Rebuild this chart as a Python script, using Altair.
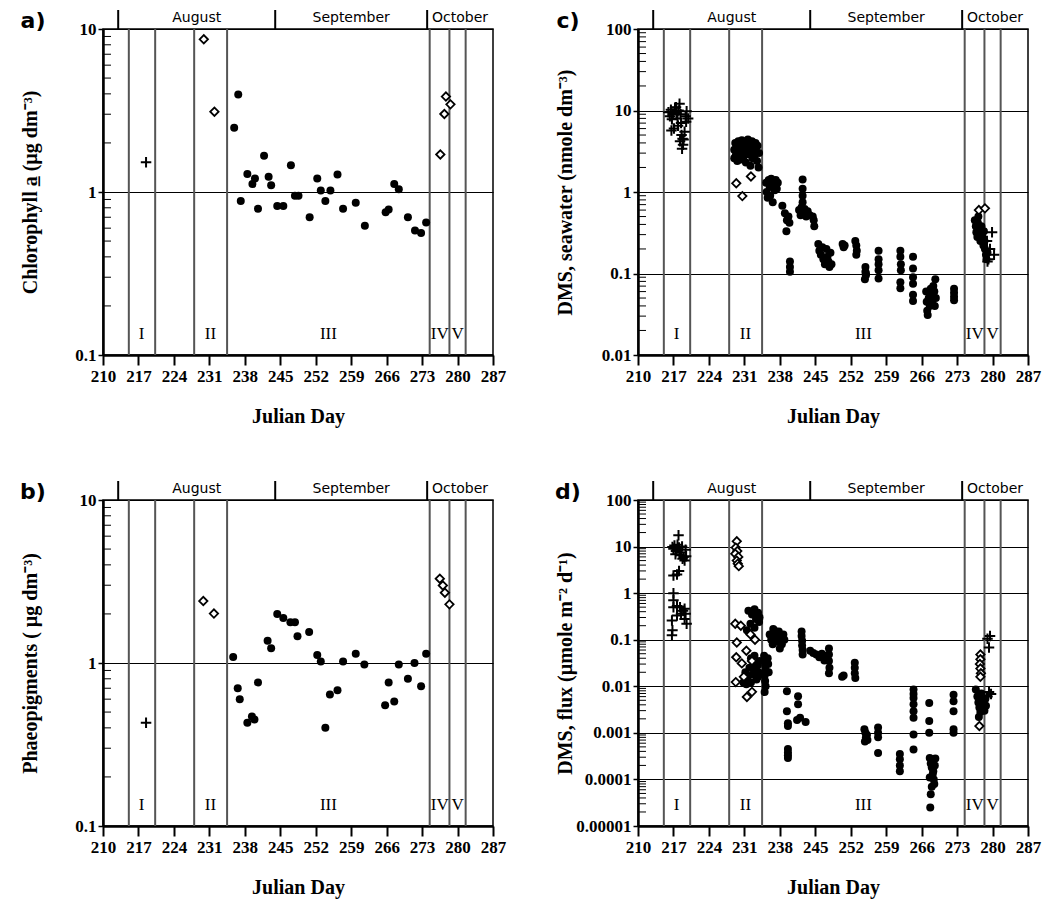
import altair as alt
import pandas as pd

# ---------------- shared axis / annotation values ----------------
x_ticks = [210, 217, 224, 231, 238, 245, 252, 259, 266, 273, 280, 287]
period_bounds = [215.1, 220.3, 228.0, 234.5, 274.5, 278.4, 281.6]
period_names = ["I", "II", "III", "IV", "V"]
period_mid = [217.6, 231.2, 254.5, 276.5, 280.0]
month_starts = [213, 244, 274]
month_names = ["August", "September", "October"]
month_mid = [228.5, 259.0, 280.5]

# ---------------- a) Chlorophyll a ----------------
chl_circle = [(235.9, 2.48), (236.7, 3.97), (237.2, 0.88), (238.5, 1.29), (239.5, 1.12), (240.0, 1.21),
              (240.6, 0.79), (241.8, 1.67), (242.7, 1.24), (243.2, 1.10), (244.4, 0.82), (245.6, 0.82),
              (247.1, 1.46), (247.9, 0.95), (248.6, 0.95), (250.8, 0.70), (252.3, 1.21), (253.0, 1.02),
              (253.9, 0.88), (254.9, 1.02), (256.3, 1.28), (257.4, 0.79), (259.9, 0.86), (261.7, 0.62),
              (265.8, 0.75), (266.4, 0.78), (267.5, 1.12), (268.4, 1.04), (270.2, 0.70), (271.6, 0.58),
              (272.8, 0.56), (273.8, 0.65)]
chl_diamond = [(229.9, 8.65), (232.0, 3.11), (276.6, 1.70), (277.4, 3.01), (277.7, 3.85), (278.6, 3.45)]
chl_plus = [(218.5, 1.52)]

# ---------------- b) Phaeopigments ----------------
phaeo_circle = [(235.7, 1.09), (236.6, 0.70), (237.0, 0.60), (238.5, 0.43), (239.4, 0.47), (239.9, 0.45),
                (240.6, 0.76), (242.5, 1.37), (243.2, 1.23), (244.4, 2.00), (245.6, 1.89), (247.0, 1.78),
                (247.9, 1.78), (248.4, 1.46), (250.7, 1.55), (252.3, 1.12), (253.0, 1.02), (253.9, 0.40),
                (254.8, 0.64), (256.3, 0.68), (257.4, 1.02), (259.9, 1.14), (261.6, 0.98), (265.7, 0.55),
                (266.4, 0.76), (267.5, 0.58), (268.4, 0.98), (270.2, 0.80), (271.5, 1.00), (272.8, 0.72),
                (273.8, 1.14)]
phaeo_diamond = [(229.8, 2.40), (231.9, 2.01), (276.5, 3.29), (277.1, 2.99), (277.5, 2.70), (278.4, 2.29)]
phaeo_plus = [(218.5, 0.43)]

# ---------------- c) DMS seawater ----------------
sw_circle = [
    (229.0, 2.6), (229.0, 3.3), (229.2, 4.0), (229.3, 2.8), (229.5, 3.6), (229.6, 2.4), (229.8, 4.2),
    (230.0, 3.0), (230.2, 3.5), (230.3, 2.5), (230.5, 4.3), (230.6, 3.8), (230.8, 2.7), (231.0, 3.2),
    (231.1, 4.0), (231.3, 2.3), (231.5, 3.6), (231.7, 4.4), (231.8, 2.9), (232.0, 3.3), (232.2, 2.1),
    (232.3, 3.9), (232.5, 4.2), (232.6, 2.6), (232.8, 3.4), (233.0, 2.8), (233.2, 4.0), (233.3, 3.1),
    (233.5, 2.4), (233.6, 3.7), (233.8, 2.0), (233.9, 3.0),
    (235.3, 1.3), (235.4, 1.0), (235.6, 0.85), (235.8, 1.4), (236.0, 1.15), (236.1, 0.9), (236.3, 1.45),
    (236.5, 1.2), (236.6, 0.75), (236.8, 1.35), (237.0, 1.05), (237.2, 1.4), (237.4, 1.1), (237.6, 1.3),
    (238.5, 0.68), (239.0, 0.55), (239.4, 0.45), (239.3, 0.33), (239.7, 0.5), (239.9, 0.42),
    (240.0, 0.14), (240.0, 0.12), (240.0, 0.105),
    (241.8, 0.6), (242.1, 0.52), (242.3, 0.65), (242.5, 1.42), (242.5, 1.1), (242.5, 0.9), (242.5, 0.75),
    (242.7, 0.55), (242.9, 0.62), (243.2, 0.5), (243.5, 0.58), (243.9, 0.52), (244.5, 0.5), (244.7, 0.45),
    (244.8, 0.38),
    (245.6, 0.23), (245.8, 0.19), (246.1, 0.17), (246.4, 0.21), (246.6, 0.15), (246.9, 0.13), (247.2, 0.2),
    (247.4, 0.16), (247.6, 0.14), (247.8, 0.12), (248.0, 0.18), (248.2, 0.13),
    (250.4, 0.23), (250.8, 0.22), (250.6, 0.21),
    (252.9, 0.25), (253.1, 0.22), (253.2, 0.19), (253.1, 0.17),
    (254.9, 0.12), (254.9, 0.105), (255.0, 0.095), (254.8, 0.085), (255.0, 0.1),
    (257.5, 0.19), (257.5, 0.15), (257.5, 0.13), (257.5, 0.11), (257.5, 0.087),
    (261.8, 0.19), (261.8, 0.16), (261.9, 0.13), (261.9, 0.11), (261.8, 0.078), (261.8, 0.066),
    (264.3, 0.16), (264.3, 0.115), (264.3, 0.09), (264.3, 0.075), (264.3, 0.055), (264.3, 0.046),
    (266.9, 0.06), (267.0, 0.045), (267.1, 0.035), (267.2, 0.031), (267.4, 0.05), (267.6, 0.04),
    (267.8, 0.065), (267.9, 0.055), (268.1, 0.045), (268.3, 0.07), (268.5, 0.06), (268.7, 0.085),
    (268.8, 0.05), (268.6, 0.04),
    (272.4, 0.065), (272.4, 0.058), (272.4, 0.052), (272.4, 0.047),
    (276.5, 0.45), (276.7, 0.38), (276.8, 0.32), (277.0, 0.28), (277.1, 0.42), (277.3, 0.35), (277.5, 0.3),
    (277.6, 0.25), (277.8, 0.38), (278.0, 0.28), (278.2, 0.22), (278.3, 0.33), (278.5, 0.2), (278.7, 0.17),
    (278.8, 0.15), (279.0, 0.18), (278.4, 0.25), (277.2, 0.5)]
sw_diamond = [(229.4, 1.28), (230.6, 0.89), (232.3, 1.55), (277.3, 0.60), (278.5, 0.63)]
sw_plus = [(216.0, 9.5), (216.3, 8.5), (216.5, 10.2), (216.6, 5.7), (216.7, 7.8), (216.9, 9.0), (217.1, 6.0),
           (217.3, 10.8), (217.5, 11.0), (217.6, 9.3), (217.8, 8.0), (218.0, 10.0), (218.2, 12.1),
           (218.3, 4.2), (218.4, 9.0), (218.5, 7.0), (218.6, 5.0), (218.7, 3.4), (218.8, 4.5), (218.9, 3.8),
           (219.0, 4.4), (219.2, 5.5), (219.4, 8.5), (219.5, 7.3), (219.6, 9.8), (219.9, 8.0), (217.9, 6.5),
           (279.9, 0.32), (280.3, 0.17), (279.5, 0.2), (279.2, 0.15), (278.9, 0.25), (279.0, 0.14)]

# ---------------- d) DMS flux ----------------
flux_circle = [
    (231.8, 0.42), (232.5, 0.35), (233.0, 0.45), (233.3, 0.28), (233.7, 0.38), (232.2, 0.22), (233.0, 0.18),
    (233.9, 0.24), (231.5, 0.16), (234.0, 0.30),
    (230.8, 0.012), (231.2, 0.02), (231.6, 0.015), (232.0, 0.025), (232.3, 0.012), (232.6, 0.018),
    (232.9, 0.03), (233.1, 0.022), (233.4, 0.014), (233.6, 0.028), (233.8, 0.02), (234.0, 0.035),
    (232.3, 0.04), (231.4, 0.011), (233.0, 0.045), (233.7, 0.016),
    (234.9, 0.045), (235.0, 0.035), (235.1, 0.028), (235.2, 0.022), (235.0, 0.017), (235.1, 0.013),
    (235.2, 0.010), (235.0, 0.0075), (235.6, 0.04), (235.7, 0.03), (235.8, 0.02),
    (236.0, 0.13), (236.3, 0.1), (236.6, 0.08), (236.9, 0.16), (237.2, 0.12), (237.5, 0.09), (237.8, 0.15),
    (238.1, 0.11), (238.4, 0.08), (238.7, 0.13), (236.7, 0.17), (238.0, 0.065), (238.9, 0.1),
    (239.4, 0.0078), (239.4, 0.0029), (239.6, 0.0016), (239.6, 0.0014), (239.6, 0.00045), (239.6, 0.00038),
    (239.6, 0.00033), (239.6, 0.00029),
    (241.6, 0.0061), (241.6, 0.0041), (241.4, 0.0019), (243.1, 0.0017), (242.0, 0.0021),
    (242.3, 0.15), (242.3, 0.12), (242.4, 0.095), (242.4, 0.075), (242.5, 0.06), (242.5, 0.048),
    (244.0, 0.058), (244.6, 0.052), (245.2, 0.048), (245.8, 0.042), (246.3, 0.05), (246.8, 0.036),
    (247.2, 0.045),
    (247.7, 0.065), (247.7, 0.048), (247.7, 0.035), (247.8, 0.025), (247.7, 0.019),
    (250.3, 0.016), (250.6, 0.017),
    (252.8, 0.032), (252.8, 0.025), (252.8, 0.019), (252.9, 0.015),
    (254.7, 0.0012), (254.9, 0.001), (255.0, 0.0008), (254.8, 0.00065), (255.2, 0.0009), (255.3, 0.0007),
    (257.4, 0.0013), (257.4, 0.001), (257.4, 0.0008), (257.4, 0.00037),
    (261.7, 0.00035), (261.7, 0.00027), (261.7, 0.0002), (261.7, 0.00015),
    (264.4, 0.0085), (264.4, 0.0068), (264.4, 0.0056), (264.4, 0.0041), (264.4, 0.0029), (264.4, 0.0021),
    (264.4, 0.00092), (264.4, 0.00044),
    (267.5, 0.0044), (267.5, 0.0018), (267.5, 0.001), (267.6, 0.00029), (267.8, 0.00022), (268.0, 0.00018),
    (268.2, 0.00013), (268.4, 0.0001), (268.5, 0.00008), (268.0, 0.00007), (267.8, 0.000048),
    (267.7, 0.000025), (268.6, 0.0002), (268.7, 0.00028), (268.3, 0.00015), (267.6, 0.00011),
    (272.3, 0.0066), (272.3, 0.0048), (272.3, 0.0029), (272.3, 0.0012), (272.3, 0.001),
    (276.7, 0.0085), (277.0, 0.006), (277.2, 0.0045), (277.4, 0.0035), (277.6, 0.0028), (277.8, 0.007),
    (278.0, 0.005), (278.2, 0.004), (278.4, 0.003), (278.6, 0.0055), (277.3, 0.0022), (278.7, 0.0038)]
flux_diamond = [
    (229.5, 13.0), (229.3, 9.5), (229.6, 8.0), (229.2, 7.0), (229.8, 6.0), (229.5, 5.0), (229.7, 4.3),
    (229.9, 3.8),
    (229.2, 0.22), (230.3, 0.20), (229.5, 0.087), (231.4, 0.058), (232.2, 0.13), (229.4, 0.042),
    (230.5, 0.031), (232.5, 0.035), (229.3, 0.0123), (231.5, 0.0059), (232.5, 0.0076), (233.1, 0.10),
    (230.9, 0.016),
    (277.6, 0.048), (277.6, 0.038), (277.5, 0.03), (277.6, 0.024), (277.7, 0.019), (277.6, 0.016),
    (277.4, 0.0014)]
flux_plus = [
    (216.8, 9.8), (217.0, 9.0), (217.2, 10.5), (217.4, 6.8), (217.5, 8.0), (217.8, 11.0), (218.0, 17.5),
    (218.1, 9.5), (218.3, 7.5), (218.5, 6.5), (218.7, 10.0), (218.8, 5.5), (219.0, 6.0), (219.2, 5.0),
    (219.4, 8.5), (219.5, 6.2), (218.1, 3.0), (217.0, 2.4), (217.7, 2.5),
    (217.0, 1.0), (217.0, 0.70), (217.0, 0.50), (218.3, 0.50), (219.2, 0.46), (216.7, 0.26), (217.7, 0.33),
    (218.5, 0.36), (219.4, 0.36), (219.6, 0.22), (216.8, 0.16), (216.7, 0.125), (218.9, 0.42),
    (219.2, 0.28), (217.7, 0.53),
    (279.0, 0.105), (279.3, 0.068), (279.5, 0.12), (279.7, 0.0068), (279.3, 0.0075), (279.0, 0.006)]

# ---------------- styling ----------------
W, H = 390, 326
SERIF = "Liberation Serif"
SANS = "DejaVu Sans"
PLUS = "M-1,0L1,0M0,-1L0,1"


def pts(pairs):
    return pd.DataFrame(pairs, columns=["day", "val"])


def panel(letter, title, ylo, yhi, circles, diamonds, pluses):
    decades = [10.0 ** e for e in range(ylo, yhi + 1)]
    minor = [m * 10.0 ** e for e in range(ylo, yhi) for m in range(2, 10)]

    xenc = alt.X("day:Q",
                 scale=alt.Scale(domain=[210, 287], nice=False, zero=False),
                 axis=alt.Axis(values=x_ticks, title="Julian Day", grid=False,
                               tickSize=10, tickWidth=2, tickColor="black",
                               domainColor="black", domainWidth=2.5,
                               labelFont=SERIF, labelFontSize=17, labelFontWeight="bold",
                               labelColor="black", labelPadding=3, labelFlush=False,
                               labelOverlap=False,
                               titleFont=SERIF, titleFontSize=20, titleFontWeight="bold",
                               titleColor="black", titleY=61, titleBaseline="middle"))
    yenc = alt.Y("val:Q",
                 scale=alt.Scale(type="log", domain=[decades[0], decades[-1]], nice=False),
                 axis=alt.Axis(values=decades, labelExpr="format(datum.value, '~r')",
                               title=title, grid=True, gridColor="black", gridWidth=1,
                               gridOpacity=1, tickSize=5, tickWidth=1.5, tickColor="black",
                               domainColor="black", domainWidth=2.5,
                               labelFont=SERIF, labelFontSize=17, labelFontWeight="bold",
                               labelColor="black", labelPadding=2, labelOverlap=False,
                               titleFont=SERIF, titleFontSize=20, titleFontWeight="bold",
                               titleColor="black", titleX=-73, titleY=H / 2,
                               titleBaseline="middle", titleAlign="center"))

    bounds = alt.Chart(pd.DataFrame({"day": period_bounds})).mark_rule(
        color="#555555", strokeWidth=2).encode(x=xenc)
    ticks = alt.Chart(pd.DataFrame({"val": minor})).mark_rule(
        color="black", strokeWidth=1).encode(y=yenc, x=alt.value(0), x2=alt.value(8))
    mticks = alt.Chart(pd.DataFrame({"day": month_starts})).mark_rule(
        color="black", strokeWidth=2).encode(x=xenc, y=alt.value(-19), y2=alt.value(0))
    mtext = alt.Chart(pd.DataFrame({"day": month_mid, "name": month_names})).mark_text(
        font=SANS, fontSize=14, color="black", baseline="middle").encode(
        x=xenc, y=alt.value(-11), text="name:N")
    roman = alt.Chart(pd.DataFrame({"day": period_mid, "name": period_names})).mark_text(
        font=SERIF, fontSize=17, color="black", baseline="middle").encode(
        x=xenc, y=alt.value(H - 21), text="name:N")
    lett = alt.Chart(pd.DataFrame({"t": [letter]})).mark_text(
        font=SANS, fontSize=22, fontWeight="bold", color="black", baseline="middle").encode(
        x=alt.value(-70), y=alt.value(-8), text="t:N")

    layers = [bounds, ticks, mticks, mtext, roman, lett]
    if circles:
        layers.append(alt.Chart(pts(circles)).mark_point(
            shape="circle", filled=True, color="black", size=64, opacity=1).encode(x=xenc, y=yenc))
    if diamonds:
        layers.append(alt.Chart(pts(diamonds)).mark_point(
            shape="diamond", filled=True, fill="white", stroke="black", strokeWidth=1.8,
            size=70, opacity=1).encode(x=xenc, y=yenc))
    if pluses:
        layers.append(alt.Chart(pts(pluses)).mark_point(
            shape=PLUS, filled=False, color="black", strokeWidth=2, size=110,
            opacity=1).encode(x=xenc, y=yenc))
    return alt.layer(*layers).properties(width=W, height=H)


pa = panel("a)", "Chlorophyll a̲  (µg dm⁻³)", -1, 1, chl_circle, chl_diamond, chl_plus)
pb = panel("b)", "Phaeopigments ( µg dm⁻³)", -1, 1, phaeo_circle, phaeo_diamond, phaeo_plus)
pc = panel("c)", "DMS, seawater  (nmole dm⁻³)", -2, 2, sw_circle, sw_diamond, sw_plus)
pd_ = panel("d)", "DMS, flux  (µmole m⁻² d⁻¹)", -5, 2, flux_circle, flux_diamond, flux_plus)

chart = alt.concat(pa, pc, pb, pd_, columns=2, spacing=145, bounds="flush").properties(
    padding={"left": 11, "top": 0, "right": 5, "bottom": 5}
).configure_view(stroke="black", strokeWidth=1.5)

chart.save("out.html", embed_options={"renderer": "svg", "actions": False})
